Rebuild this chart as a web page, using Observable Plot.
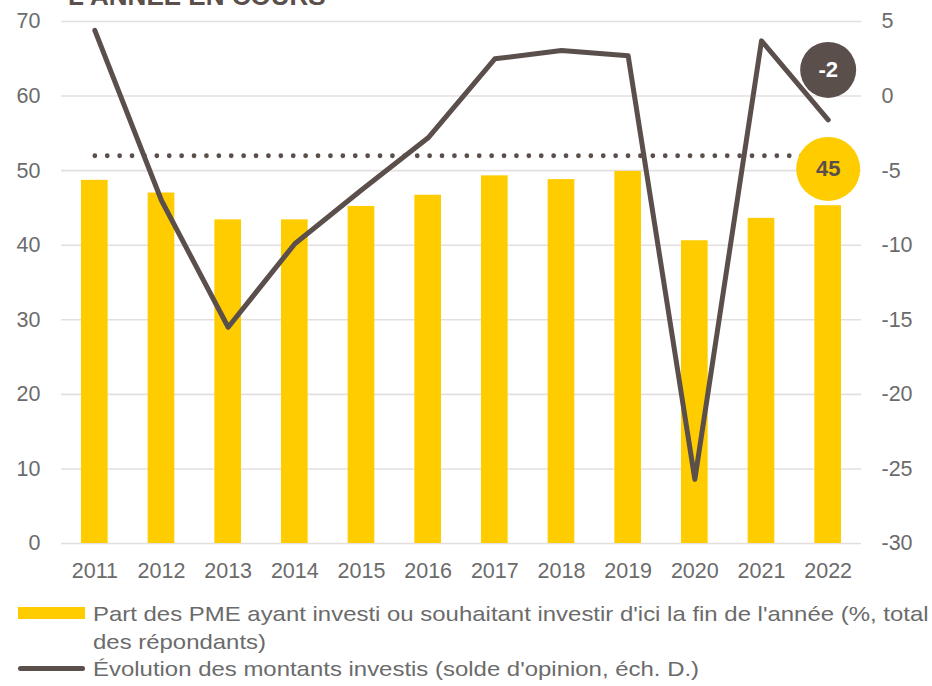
<!DOCTYPE html>
<html><head><meta charset="utf-8">
<script src="https://cdn.jsdelivr.net/npm/d3@7"></script>
<script src="https://cdn.jsdelivr.net/npm/@observablehq/plot@0.6"></script>
<style>
body{margin:0;background:#fff;font-family:"Liberation Sans",Arial,sans-serif;}
#wrap{position:relative;width:932px;height:686px;overflow:hidden;}
#title{position:absolute;left:68px;top:-17px;font-size:26px;font-weight:bold;color:#5b4f4c;line-height:26px;white-space:nowrap;}
#chart{position:absolute;left:0;top:0;}
.leg{position:absolute;left:93px;font-size:21px;color:#6b6b6b;line-height:27.5px;white-space:nowrap;transform-origin:0 0;transform:scaleX(1.14);}
.sw{position:absolute;left:18px;width:67px;}
</style></head>
<body><div id="wrap">
<div id="chart"></div>
<div id="title">L'ANNÉE EN COURS</div>
<div class="sw" style="top:607px;height:12px;background:#FFCC00"></div>
<div class="leg" style="top:600px">Part des PME ayant investi ou souhaitant investir d'ici la fin de l'année (%, total<br>des répondants)</div>
<div class="sw" style="top:666px;height:5px;border-radius:3px;background:#5b4f4c"></div>
<div class="leg" style="top:655px">Évolution des montants investis (solde d'opinion, éch. D.)</div>
</div>
<script>
const years = ["2011","2012","2013","2014","2015","2016","2017","2018","2019","2020","2021","2022"];
const shareInvested = [48.7,47.0,43.4,43.4,45.2,46.7,49.3,48.8,49.9,40.6,43.6,45.3];
const amountBalance = [4.4,-7.0,-15.5,-9.9,-6.3,-2.8,2.5,3.05,2.7,-25.7,3.7,-1.6];
const leftTicks = [0,10,20,30,40,50,60,70];
const rightTicks = [-30,-25,-20,-15,-10,-5,0,5];
const averageShare = 52;
const shareLabel = 45;
const balanceLabel = -2;

const yellow = "#FFCC00", brown = "#5b4f4c", grey = "#6b6b6b";
const toLeft = v => (v + 30) * 2;
const rows = years.map((y,i) => ({year:y, share:shareInvested[i], bal:amountBalance[i]}));
const last = years[years.length-1];

const chart = Plot.plot({
  width: 932, height: 600,
  marginTop: 21, marginBottom: 57, marginLeft: 61, marginRight: 71,
  style: {fontFamily: '"Liberation Sans", Arial, sans-serif', fontSize: "21.5px", color: grey, background: "transparent"},
  x: {type: "band", domain: years, paddingInner: 0.6, paddingOuter: 0.3, round: false, label: null},
  y: {domain: [0, 70], label: null},
  marks: [
    Plot.ruleY(leftTicks, {stroke: "#e4dfdf", strokeWidth: 1.6}),
    Plot.barY(rows, {x: "year", y: "share", fill: yellow}),
    Plot.line([{year: years[0]}, {year: last}], {x: "year", y: () => averageShare, stroke: brown, strokeWidth: 4.8, strokeDasharray: "0 12.4", strokeLinecap: "round"}),
    Plot.line(rows, {x: "year", y: d => toLeft(d.bal), stroke: brown, strokeWidth: 5, strokeLinejoin: "round", strokeLinecap: "round"}),
    Plot.axisY(leftTicks, {anchor: "left", tickSize: 0, tickPadding: 21, label: null, fill: grey}),
    Plot.axisY(rightTicks.map(toLeft), {anchor: "right", tickSize: 0, tickPadding: 20, label: null, tickFormat: d => String(d/2 - 30), fill: grey}),
    Plot.axisX(years, {anchor: "bottom", tickSize: 0, tickPadding: 19, label: null, fill: grey}),
    Plot.dot([shareLabel], {x: () => last, y: d => d, r: 32, fill: yellow, dy: -39}),
    Plot.text([shareLabel], {x: () => last, y: d => d, text: d => String(d), dy: -39, fill: brown, fontWeight: "bold", fontSize: 22}),
    Plot.dot([balanceLabel], {x: () => last, y: d => toLeft(d), r: 28, fill: brown, dy: -56}),
    Plot.text([balanceLabel], {x: () => last, y: d => toLeft(d), text: d => String(d), dy: -56, fill: "#ffffff", fontWeight: "bold", fontSize: 22})
  ]
});
document.getElementById("chart").appendChild(chart);
</script>
</body></html>
